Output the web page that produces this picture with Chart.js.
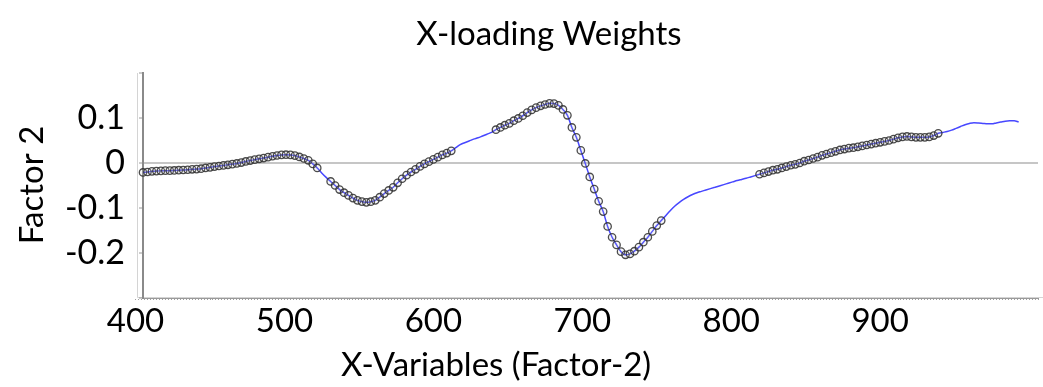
<!DOCTYPE html>
<html>
<head>
<meta charset="utf-8">
<script src="https://cdn.jsdelivr.net/npm/chart.js@4/dist/chart.umd.min.js"></script>
<style>
  html, body { margin: 0; padding: 0; background: #fff; }
  #wrap { width: 1043px; height: 387px; position: relative; }
</style>
</head>
<body>
<div id="wrap"><canvas id="chart" width="1043" height="387"></canvas></div>
<script>
// X-variables (wavelength, nm)
const wavelengths = [
  405, 408, 411, 414, 417, 420, 423, 426, 429, 432, 435, 438, 441, 444, 447, 450, 453, 456, 459, 462,
  465, 468, 471, 474, 477, 480, 483, 486, 489, 492, 495, 498, 501, 504, 507, 510, 513, 516, 519, 522,
  525, 528, 531, 534, 537, 540, 543, 546, 549, 552, 555, 558, 561, 564, 567, 570, 573, 576, 579, 582,
  585, 588, 591, 594, 597, 600, 603, 606, 609, 612, 615, 618, 621, 624, 627, 630, 633, 636, 639, 642,
  645, 648, 651, 654, 657, 660, 663, 666, 669, 672, 675, 678, 681, 684, 687, 690, 693, 696, 699, 702,
  705, 708, 711, 714, 717, 720, 723, 726, 729, 732, 735, 738, 741, 744, 747, 750, 753, 756, 759, 762,
  765, 768, 771, 774, 777, 780, 783, 786, 789, 792, 795, 798, 801, 804, 807, 810, 813, 816, 819, 822,
  825, 828, 831, 834, 837, 840, 843, 846, 849, 852, 855, 858, 861, 864, 867, 870, 873, 876, 879, 882,
  885, 888, 891, 894, 897, 900, 903, 906, 909, 912, 915, 918, 921, 924, 927, 930, 933, 936, 939, 942,
  945, 948, 951, 954, 957, 960, 963, 966, 969, 972, 975, 978, 981, 984, 987, 990, 993
];

// X-loading weights, factor 2
const loadingWeights = [
  -0.021, -0.020, -0.0185, -0.018, -0.0175, -0.017, -0.017, -0.0165, -0.016, -0.0155,
  -0.015, -0.014, -0.0135, -0.0127, -0.011, -0.0097, -0.008, -0.0067, -0.0053, -0.004,
  -0.0025, -0.001, 0.001, 0.0035, 0.0054, 0.0074, 0.0093, 0.011, 0.013, 0.015,
  0.0167, 0.018, 0.0185, 0.018, 0.0165, 0.0135, 0.010, 0.006, -0.002, -0.011,
  -0.022, -0.032, -0.041, -0.050, -0.059, -0.066, -0.072, -0.078, -0.083, -0.0858,
  -0.0874, -0.086, -0.083, -0.076, -0.068, -0.061, -0.054, -0.044, -0.035, -0.027,
  -0.020, -0.014, -0.0076, -0.002, 0.003, 0.008, 0.013, 0.018, 0.022, 0.027,
  0.034, 0.041, 0.045, 0.049, 0.053, 0.056, 0.060, 0.064, 0.068, 0.074,
  0.079, 0.084, 0.088, 0.094, 0.099, 0.105, 0.112, 0.118, 0.123, 0.127,
  0.130, 0.1326, 0.132, 0.128, 0.119, 0.106, 0.079, 0.057, 0.028, -0.001,
  -0.031, -0.058, -0.085, -0.108, -0.141, -0.165, -0.182, -0.197, -0.204, -0.202,
  -0.196, -0.187, -0.176, -0.165, -0.152, -0.139, -0.128, -0.117, -0.106, -0.096,
  -0.088, -0.081, -0.075, -0.070, -0.066, -0.063, -0.060, -0.057, -0.054, -0.051,
  -0.048, -0.045, -0.042, -0.039, -0.0365, -0.034, -0.031, -0.028, -0.025, -0.022,
  -0.019, -0.016, -0.014, -0.011, -0.008, -0.005, -0.003, 0.000, 0.004, 0.0067,
  0.010, 0.013, 0.017, 0.020, 0.023, 0.026, 0.029, 0.031, 0.033, 0.034,
  0.036, 0.038, 0.040, 0.042, 0.044, 0.046, 0.048, 0.050, 0.053, 0.056,
  0.058, 0.059, 0.058, 0.057, 0.057, 0.057, 0.058, 0.061, 0.066, 0.068,
  0.070, 0.073, 0.077, 0.081, 0.085, 0.088, 0.0896, 0.089, 0.088, 0.087,
  0.087, 0.089, 0.091, 0.093, 0.094, 0.094, 0.091
];

// Wavelength intervals whose variables are marked with circles
const markedRanges = [[405, 522], [531, 612], [642, 753], [819, 939]];

const xTickLabels = [400, 500, 600, 700, 800, 900];
const yTickLabels = [0.1, 0, -0.1, -0.2];

const chartTitle = 'X-loading Weights';
const xAxisTitle = 'X-Variables (Factor-2)';
const yAxisTitle = 'Factor 2';

const FONT = 'Lato, "Open Sans", sans-serif';

const points = wavelengths.map((w, i) => ({ x: w, y: loadingWeights[i] }));
const isMarked = w => markedRanges.some(([a, b]) => w >= a && w <= b);

// Plot frame and caption texts
const decorations = {
  id: 'decorations',
  beforeDraw(chart) {
    const ctx = chart.ctx;
    const a = chart.chartArea;
    ctx.save();
    ctx.fillStyle = '#fff';
    ctx.fillRect(0, 0, chart.width, chart.height);
    ctx.strokeStyle = '#d4d4d4';
    ctx.lineWidth = 1;
    ctx.beginPath();
    ctx.moveTo(a.left - 5.5, a.top);
    ctx.lineTo(a.left - 5.5, a.bottom - 0.5);
    ctx.lineTo(chart.width, a.bottom - 0.5);
    ctx.stroke();
    ctx.restore();
  },
  afterDraw(chart) {
    const ctx = chart.ctx;
    ctx.save();
    ctx.fillStyle = '#000';
    ctx.textAlign = 'center';
    ctx.textBaseline = 'alphabetic';
    ctx.font = '33px ' + FONT;
    ctx.fillText(chartTitle, 549, 45);
    ctx.fillText(xAxisTitle, 496, 376);
    ctx.translate(43, 185);
    ctx.rotate(-Math.PI / 2);
    ctx.fillText(yAxisTitle, 0, 0);
    ctx.restore();
  }
};

new Chart(document.getElementById('chart'), {
  type: 'line',
  data: {
    datasets: [{
      data: points,
      borderColor: '#4747ff',
      borderWidth: 1.5,
      cubicInterpolationMode: 'monotone',
      pointRadius: c => (isMarked(c.raw.x) ? 3.7 : 0),
      pointHoverRadius: 0,
      pointBorderColor: 'rgba(45,45,45,0.85)',
      pointBackgroundColor: 'rgba(200,200,200,0.15)',
      pointBorderWidth: 1.3,
      clip: false
    }]
  },
  options: {
    responsive: false,
    animation: false,
    events: [],
    layout: { padding: { top: 73, right: 3, bottom: 0, left: 0 } },
    plugins: { legend: { display: false }, tooltip: { enabled: false }, title: { display: false } },
    scales: {
      x: {
        type: 'linear',
        min: 405,
        max: 1006,
        afterFit: s => { s.height = 89; },
        afterBuildTicks: s => {
          const t = [];
          for (let v = 400; v <= 1006; v += 2) t.push({ value: v });
          s.ticks = t;
        },
        border: { color: '#9a9a9a', width: 1 },
        grid: { drawOnChartArea: false, tickLength: 2, tickColor: '#a0a0a0', lineWidth: 1 },
        ticks: {
          autoSkip: false,
          maxRotation: 0,
          padding: 2,
          color: '#000',
          font: { family: FONT, size: 33 },
          callback: v => (xTickLabels.includes(v) ? String(v) : '')
        }
      },
      y: {
        min: -0.3,
        max: 0.2,
        afterFit: s => { s.width = 143; },
        afterBuildTicks: s => {
          const t = [];
          for (let k = -6; k <= 4; k++) t.push({ value: k / 20 });
          s.ticks = t;
        },
        border: { color: '#8a8a8a', width: 2 },
        grid: {
          color: c => (c.tick && Math.abs(c.tick.value) < 1e-9 ? '#c6c6c6' : 'rgba(0,0,0,0)'),
          lineWidth: 2,
          tickLength: 4,
          tickColor: '#9a9a9a',
          tickWidth: 1
        },
        ticks: {
          padding: 14,
          color: '#000',
          font: { family: FONT, size: 34 },
          callback: v => {
            const hit = yTickLabels.find(l => Math.abs(l - v) < 1e-9);
            return hit === undefined ? '' : String(hit);
          }
        }
      }
    }
  },
  plugins: [decorations]
});
</script>
</body>
</html>
